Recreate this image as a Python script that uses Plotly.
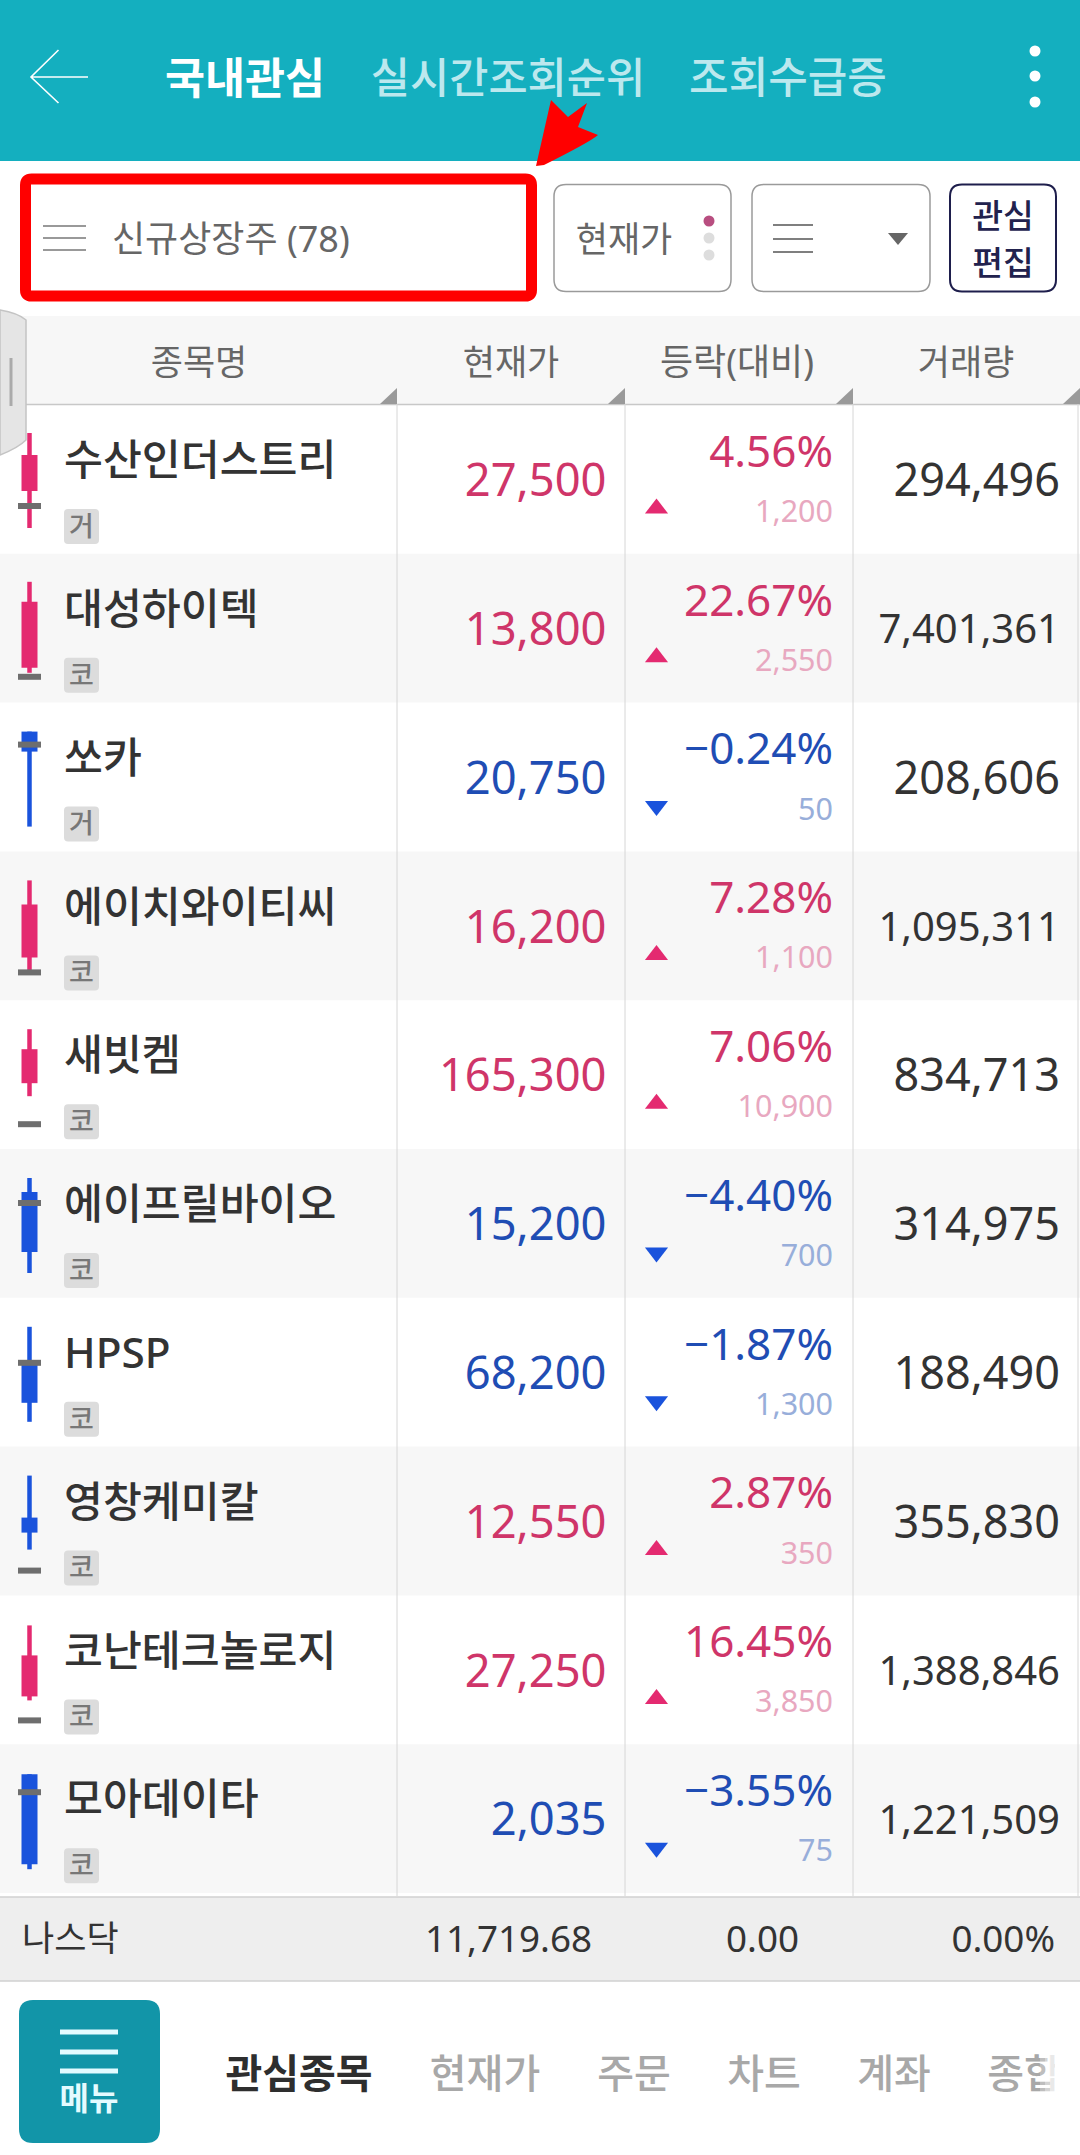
import plotly.graph_objects as go

# ---------- data ----------
names = ["수산인더스트리", "대성하이텍", "쏘카", "에이치와이티씨", "새빗켐", "에이프릴바이오", "HPSP", "영창케미칼", "코난테크놀로지", "모아데이타"]
markets = ["거", "코", "거", "코", "코", "코", "코", "코", "코", "코"]
prices = ["27,500", "13,800", "20,750", "16,200", "165,300", "15,200", "68,200", "12,550", "27,250", "2,035"]
pcts = [4.56, 22.67, -0.24, 7.28, 7.06, -4.40, -1.87, 2.87, 16.45, -3.55]
changes = ["1,200", "2,550", "50", "1,100", "10,900", "700", "1,300", "350", "3,850", "75"]
volumes = ["294,496", "7,401,361", "208,606", "1,095,311", "834,713", "314,975", "188,490", "355,830", "1,388,846", "1,221,509"]
# intraday candles on each row's own 0-96 price scale
c_open = [39, 11, 96, 19, 42, 82, 59, 54, 24, 95]
c_close = [75, 77, 76, 72, 76, 22, 20, 39, 65, 5]
c_high = [97, 97, 96, 96, 96, 96, 96, 96, 95, 95]
c_low = [2, 6, 1, 4, 29, 1, 1, 22, 20, 0]
c_prev = [24, 2, 83, 4, 1, 71, 60, 1, 0, 77]
header_labels = ["종목명", "현재가", "등락(대비)", "거래량"]
top_tabs = ["국내관심", "실시간조회순위", "조회수급증"]
bottom_tabs = ["관심종목", "현재가", "주문", "차트", "계좌", "종합"]
index_row = ["나스닥", "11,719.68", "0.00", "0.00%"]

# ---------- layout constants ----------
W, H = 1080, 2155
FONT = "Noto Sans, Noto Sans CJK KR"
ROW0, ROWH = 405.0, 148.8
COLS = [397, 625, 853, 1078]
RED_T, BLUE_T = "#CF3569", "#1F4DB4"
RED_C, BLUE_C = "#E42A70", "#1A53DC"
RED_S, BLUE_S = "#E8A8C0", "#98AEDA"
DARK = "#333333"
TEAL = "#14AFBF"
CHANGE_SLOT = 125


def rr(x0, y0, x1, y1, r):
    return (f"M{x0+r},{y0} L{x1-r},{y0} Q{x1},{y0} {x1},{y0+r} L{x1},{y1-r} Q{x1},{y1} {x1-r},{y1} "
            f"L{x0+r},{y1} Q{x0},{y1} {x0},{y1-r} L{x0},{y0+r} Q{x0},{y0} {x0+r},{y0} Z")


shapes = []


def rect(x0, y0, x1, y1, fill, layer="below", opacity=1):
    shapes.append(dict(type="rect", x0=x0, y0=y0, x1=x1, y1=y1, fillcolor=fill, line_width=0, layer=layer, opacity=opacity))


def line(x0, y0, x1, y1, color, w=1):
    shapes.append(dict(type="line", x0=x0, y0=y0, x1=x1, y1=y1, line=dict(color=color, width=w), layer="below"))


def path(d, fill="rgba(0,0,0,0)", color="rgba(0,0,0,0)", w=0, layer="below"):
    shapes.append(dict(type="path", path=d, fillcolor=fill, line=dict(color=color, width=w), layer=layer))


def dot(cx, cy, r, fill):
    shapes.append(dict(type="circle", x0=cx-r, y0=cy-r, x1=cx+r, y1=cy+r, fillcolor=fill, line_width=0, layer="below"))


# top bar
rect(0, 0, W, 161, TEAL)
path("M58.5,50 L31,77 L58.5,103 M31,77 L88,77", color="#FFFFFF", w=1.6)
for cy in (51, 76, 102):
    dot(1035, cy, 5.5, "#FFFFFF")

# toolbar
path(rr(25.5, 179, 531.5, 296, 6), fill="#FFFFFF", color="#FF0000", w=11)
for y in (226, 238, 250):
    line(43, y, 86, y, "#999999", 2)
path(rr(554, 184.5, 731, 291.5, 12), fill="#FFFFFF", color="#9A9A9A", w=1.5)
path(rr(752, 184.5, 930, 291.5, 12), fill="#FFFFFF", color="#9A9A9A", w=1.5)
path(rr(950, 184.5, 1056, 291.5, 12), fill="#FFFFFF", color="#1E1E4C", w=2)
dot(709, 221, 5.5, "#B84E80")
dot(709, 238, 5.5, "#DDDDDD")
dot(709, 255, 5.5, "#DDDDDD")
for y in (225, 239, 252):
    line(773, y, 813, y, "#555555", 1.5)
path("M888,233 L908,233 L898,245 Z", fill="#666666")
path("M536,166 L551,100 L568,117 L587,103 L578,127 L598,135 Q590,142 544,165 Z", fill="#FF0000", layer="above")

# table header
rect(0, 316, W, 404, "#F7F7F7")
line(0, 404.5, W, 404.5, "#C8C8C8", 1.5)
for x in COLS[:3] + [1080]:
    path(f"M{x-17},404 L{x},404 L{x},388 Z", fill="#9A9A9A")

# rows
for i in range(len(names)):
    top = ROW0 + ROWH * i
    if i % 2:
        rect(0, top, W, top + ROWH, "#F7F7F7")
    path(rr(64, top + 104, 99, top + 139, 4), fill="#DCDCDC")
for x in COLS:
    line(x, 404, x, 1896, "#D6D6D6", 1)

# side tab
path("M0,310 Q18,313 26,320 L26,440 Q18,448 0,455 Z", fill="#E5E5E5", color="#C4C4C4", w=1.5)
line(11, 358, 11, 406, "#AAAAAA", 3)

# index row
rect(0, 1897, W, 1981, "#EEEEEE")
line(0, 1897, W, 1897, "#D0D0D0", 1.5)
line(0, 1981, W, 1981, "#D0D0D0", 1.5)

# menu button
path(rr(19, 2000, 160, 2143, 14), fill="#1295A8")
for y in (2032, 2052, 2071):
    line(60, y, 118, y, "#E4FBFF", 5)

# fade-out of the clipped last bottom tab
for k, a in enumerate((0.25, 0.5, 0.75)):
    rect(1040 + k * 5, 2040, 1045 + k * 5, 2110, "#FFFFFF", layer="above", opacity=a)
rect(1055, 2040, W, 2110, "#FFFFFF", layer="above")

fig = go.Figure()


def text(xs, ys, ts, colors, sizes, pos, weight=400):
    # glyphs sit slightly above the anchor the library uses; nudge by font size
    ys = [y + 0.11 * s for y, s in zip(ys, sizes)]
    fig.add_trace(go.Scatter(x=xs, y=ys, text=ts, mode="text", textposition=pos, cliponaxis=False,
                             textfont=dict(family=FONT, color=colors, size=sizes, weight=weight),
                             hoverinfo="skip", showlegend=False))


def yof(i, rel):
    return ROW0 + ROWH * i + rel


def lvl(i, v):
    return ROW0 + ROWH * i + CHANGE_SLOT - v


# candles
def seg_trace(xs, ys, color, w):
    fig.add_trace(go.Scatter(x=xs, y=ys, mode="lines", line=dict(color=color, width=w), hoverinfo="skip", showlegend=False))


for up, col in ((True, RED_C), (False, BLUE_C)):
    wx, wy, bx, by = [], [], [], []
    for i in range(len(names)):
        if (c_close[i] > c_open[i]) == up:
            wx += [29.5, 29.5, None]
            wy += [lvl(i, c_high[i]), lvl(i, c_low[i]), None]
            bx += [29.5, 29.5, None]
            by += [lvl(i, c_open[i]), lvl(i, c_close[i]), None]
    seg_trace(wx, wy, col, 4.5)
    seg_trace(bx, by, col, 16)
px, py = [], []
for i in range(len(names)):
    px += [18, 41, None]
    py += [lvl(i, c_prev[i]), lvl(i, c_prev[i]), None]
seg_trace(px, py, "#6E6E6E", 6)

n = len(names)
idx = list(range(n))
text([64] * n, [yof(i, 55) for i in idx], names, [DARK] * n, [42.3] * n, "middle right", 500)
text([81.5] * n, [yof(i, 121) for i in idx], markets, ["#777777"] * n, [27] * n, "middle center", 500)
pcol = [RED_T if p > 0 else BLUE_T for p in pcts]
scol = [RED_S if p > 0 else BLUE_S for p in pcts]
text([606.5] * n, [yof(i, 75) for i in idx], prices, pcol, [45.3] * n, "middle left")
text([833] * n, [yof(i, 46) for i in idx],
     [f"{p:.2f}%".replace("-", "\u2212") for p in pcts], pcol, [44] * n, "middle left")
text([833] * n, [yof(i, 106) for i in idx], changes, scol, [30.5] * n, "middle left")
text([1060] * n, [yof(i, 75) for i in idx], volumes, [DARK] * n,
     [40 if len(v) > 7 else 45 for v in volumes], "middle left")

for up, col, sym in ((True, RED_C, "triangle-up"), (False, BLUE_C, "triangle-down")):
    sel = [i for i in idx if (pcts[i] > 0) == up]
    fig.add_trace(go.Scatter(x=[656.5] * len(sel), y=[yof(i, 103.5) for i in sel], mode="markers",
                             marker=dict(symbol=sym, size=20, color=col, line_width=0),
                             hoverinfo="skip", showlegend=False))

# chrome text
text([245], [78], top_tabs[:1], ["#FFFFFF"], [43.5], "middle center", 700)
text([508, 788], [78, 78], top_tabs[1:], ["#BCE8EE", "#BCE8EE"], [42.6, 43], "middle center", 500)
text([112], [239], ["신규상장주 (78)"], ["#666666"], [36], "middle right")
text([624], [239], ["현재가"], ["#666666"], [35], "middle center")
text([1003, 1003], [216, 263], ["관심", "편집"], ["#22224E"] * 2, [33.5] * 2, "middle center", 500)
text([199, 511, 737, 966], [362] * 4, header_labels, ["#666666"] * 4, [35, 35, 36, 35], "middle center")
text([22], [1938], index_row[:1], [DARK], [35], "middle right")
text([592, 799, 1055], [1939] * 3, index_row[1:], [DARK] * 3, [36.8] * 3, "middle left")
text([89], [2098], ["메뉴"], ["#E4FBFF"], [32], "middle center", 700)
text([299], [2074], bottom_tabs[:1], ["#2E2E2E"], [40], "middle center", 700)
text([485, 634, 764, 894, 1024], [2074] * 5, bottom_tabs[1:], ["#A8A8A8"] * 5, [40] * 5, "middle center", 500)

fig.update_layout(
    width=W, height=H, margin=dict(l=0, r=0, t=0, b=0),
    paper_bgcolor="#FFFFFF", plot_bgcolor="#FFFFFF", shapes=shapes, showlegend=False,
    xaxis=dict(range=[0, W], visible=False, fixedrange=True),
    yaxis=dict(range=[H, 0], visible=False, fixedrange=True),
)
fig.write_html("out.html", config=dict(displayModeBar=False),
               post_script="document.body.style.margin='0';document.body.style.overflow='hidden';")
